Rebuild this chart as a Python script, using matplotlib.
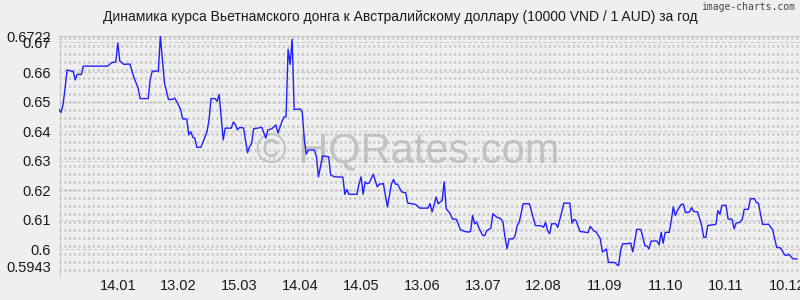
import matplotlib
matplotlib.use("Agg")
import matplotlib.pyplot as plt
import numpy as np


# Data (day index from 16.12 of previous year, rate per 10000 VND in AUD)

days = [
    0, 1, 2, 3, 4, 6, 7, 8, 9, 11, 12, 24, 26, 28, 29, 30, 32, 35, 37, 39,
    40, 43, 44, 45, 46, 49, 50, 52, 54, 56, 57, 58, 60, 61, 63, 64, 65, 66,
    67, 68, 70, 73, 74, 75, 77, 78, 79, 81, 82, 85, 86, 87, 88, 89, 91, 93,
    94, 95, 96, 98, 100, 102, 103, 105, 107, 108, 110, 111, 112, 113, 114,
    115, 116, 119, 120, 121, 122, 123, 126, 127, 128, 130, 133, 134, 136,
    139, 140, 141, 142, 143, 147, 148, 149, 150, 151, 152, 153, 155, 157,
    158, 160, 162, 164, 165, 166, 167, 169, 171, 172, 175, 176, 178, 182,
    183, 184, 185, 186, 187, 189, 190, 191, 193, 194, 196, 198, 200, 202,
    203, 204, 205, 206, 207, 209, 210, 211, 213, 214, 216, 218, 219, 220,
    221, 222, 224, 225, 226, 227, 229, 232, 235, 238, 239, 240, 241, 242,
    243, 245, 246, 248, 249, 252, 253, 254, 255, 257, 259, 261, 262, 264,
    265, 267, 268, 269, 270, 271, 274, 275, 276, 277, 278, 281, 282, 283,
    285, 287, 289, 290, 291, 292, 294, 295, 296, 297, 298, 299, 301, 302,
    303, 304, 305, 307, 308, 309, 311, 312, 313, 315, 317, 318, 319, 320,
    324, 325, 326, 327, 329, 330, 332, 333, 334, 336, 337, 338, 340, 341,
    343, 344, 345, 347, 350, 352, 354, 356, 358, 359, 360, 362, 364,
]
rates = [
    0.6473, 0.6463, 0.6490, 0.6545, 0.6607, 0.6603, 0.6603, 0.6573, 0.6592,
    0.6592, 0.6620, 0.6620, 0.6632, 0.6634, 0.6698, 0.6637, 0.6626, 0.6627,
    0.6580, 0.6547, 0.6510, 0.6510, 0.6510, 0.6577, 0.6603, 0.6603, 0.6722,
    0.6564, 0.6507, 0.6507, 0.6512, 0.6501, 0.6473, 0.6441, 0.6441, 0.6387,
    0.6398, 0.6379, 0.6376, 0.6345, 0.6345, 0.6398, 0.6438, 0.6510, 0.6510,
    0.6501, 0.6524, 0.6370, 0.6410, 0.6410, 0.6431, 0.6422, 0.6404, 0.6412,
    0.6411, 0.6327, 0.6347, 0.6357, 0.6408, 0.6410, 0.6413, 0.6376, 0.6404,
    0.6408, 0.6421, 0.6393, 0.6433, 0.6448, 0.6448, 0.6677, 0.6626, 0.6711,
    0.6473, 0.6475, 0.6463, 0.6370, 0.6322, 0.6336, 0.6336, 0.6313, 0.6245,
    0.6316, 0.6313, 0.6251, 0.6245, 0.6244, 0.6244, 0.6186, 0.6202, 0.6186,
    0.6186, 0.6222, 0.6245, 0.6186, 0.6228, 0.6222, 0.6224, 0.6254, 0.6211,
    0.6220, 0.6222, 0.6143, 0.6222, 0.6236, 0.6220, 0.6220, 0.6194, 0.6191,
    0.6156, 0.6153, 0.6151, 0.6139, 0.6139, 0.6154, 0.6126, 0.6149, 0.6177,
    0.6154, 0.6165, 0.6228, 0.6137, 0.6120, 0.6103, 0.6101, 0.6066, 0.6060,
    0.6058, 0.6060, 0.6114, 0.6086, 0.6092, 0.6074, 0.6046, 0.6046, 0.6063,
    0.6071, 0.6120, 0.6108, 0.6103, 0.6091, 0.6040, 0.6001, 0.6035, 0.6035,
    0.6046, 0.6080, 0.6091, 0.6154, 0.6154, 0.6080, 0.6079, 0.6074, 0.6091,
    0.6063, 0.6052, 0.6086, 0.6086, 0.6074, 0.6126, 0.6156, 0.6156, 0.6088,
    0.6101, 0.6097, 0.6060, 0.6058, 0.6056, 0.6077, 0.6061, 0.6058, 0.6035,
    0.5991, 0.5995, 0.6001, 0.5955, 0.5955, 0.5949, 0.5943, 0.5995, 0.6018,
    0.6019, 0.6021, 0.5991, 0.6067, 0.6067, 0.6012, 0.6011, 0.6001, 0.6027,
    0.6028, 0.6027, 0.6015, 0.6057, 0.6020, 0.6057, 0.6057, 0.6097, 0.6143,
    0.6114, 0.6131, 0.6152, 0.6152, 0.6124, 0.6126, 0.6141, 0.6128, 0.6126,
    0.6080, 0.6040, 0.6040, 0.6080, 0.6084, 0.6131, 0.6118, 0.6148, 0.6149,
    0.6103, 0.6101, 0.6069, 0.6088, 0.6092, 0.6101, 0.6135, 0.6135, 0.6171,
    0.6171, 0.6158, 0.6156, 0.6084, 0.6084, 0.6066, 0.6006, 0.6004, 0.5980,
    0.5979, 0.5983, 0.5967, 0.5967,
]

tick_days = [29, 59, 89, 119, 149, 179, 209, 239, 269, 299, 329, 359]
tick_labels = ["14.01", "13.02", "15.03", "14.04", "14.05", "13.06",
               "13.07", "12.08", "11.09", "11.10", "10.11", "10.12"]

y_ticks = [0.5943, 0.60, 0.61, 0.62, 0.63, 0.64, 0.65, 0.66, 0.67, 0.6722]
y_labels = ["0.5943", "0.6", "0.61", "0.62", "0.63", "0.64", "0.65",
            "0.66", "0.67", "0.6722"]

title = "Динамика курса Вьетнамского донга к Австралийскому доллару (10000 VND / 1 AUD) за год"


# Layout (pixels of a 800x300 canvas)

W, H = 800, 300
BG = "#efefef"
LEFT, RIGHT = 59, 800
TOP, BOTTOM = 36, 266
GRID_BOTTOM = 278

plt.rcParams["font.family"] = ["Liberation Sans", "DejaVu Sans"]

fig = plt.figure(figsize=(W / 100, H / 100), dpi=100, facecolor=BG)

# grid background: rows of short vertical marks
gax = fig.add_axes([LEFT / W, 1 - GRID_BOTTOM / H,
                    (RIGHT - LEFT) / W, (GRID_BOTTOM - TOP) / H])
gax.set_xlim(0, RIGHT - LEFT)
gax.set_ylim(GRID_BOTTOM - TOP, 0)
gax.axis("off")
px = 72 / 100
for yy in np.arange(2, GRID_BOTTOM - TOP, 8):
    gax.plot([0, RIGHT - LEFT], [yy, yy], color="#cdcdcd",
             lw=3 * px, dashes=(1 * px, 1.2 * px), solid_capstyle="butt",
             dash_capstyle="butt")
gax.plot([0.5, 0.5], [0, GRID_BOTTOM - TOP], color="#c8c8c8", lw=1 * px)

# data axes
ax = fig.add_axes([LEFT / W, 1 - BOTTOM / H,
                   (RIGHT - LEFT) / W, (BOTTOM - TOP) / H])
ax.patch.set_alpha(0)
ax.set_xlim(0, 365.5)
ax.set_ylim(y_ticks[0], y_ticks[-1])
for s in ax.spines.values():
    s.set_visible(False)

for v in y_ticks:
    if v in (y_ticks[0], y_ticks[-1]):
        ax.axhline(v, color="#c4c4c4", lw=1 * px, zorder=1)
    else:
        ax.axhline(v, color="#c8c8c8", lw=1 * px, dashes=(5 * px, 3 * px),
                   zorder=1)

ax.text(0.47, 0.5, "© HQRates.com", transform=ax.transAxes,
        ha="center", va="center", fontsize=30, color="#b8b8b8",
        alpha=0.8, zorder=2)

ax.plot(days, rates, color="#1f1fff", lw=1.0, zorder=3)

ax.set_yticks(y_ticks)
ax.set_yticklabels(y_labels, fontsize=10.5, color="#1a1a1a")
ax.set_xticks(tick_days)
ax.set_xticklabels(tick_labels, fontsize=10.5, color="#1a1a1a")
ax.tick_params(axis="both", length=0)
ax.tick_params(axis="y", pad=6)
ax.tick_params(axis="x", pad=9)

fig.text(0.5, 1 - 17 / H, title, ha="center", va="center",
         fontsize=10, color="#1a1a1a")
fig.text(1 - 5 / W, 1 - 7 / H, "image-charts.com", ha="right",
         va="center", fontsize=7, color="#444444",
         family="DejaVu Sans Mono")

fig.savefig("out.png", dpi=100, facecolor=BG)
